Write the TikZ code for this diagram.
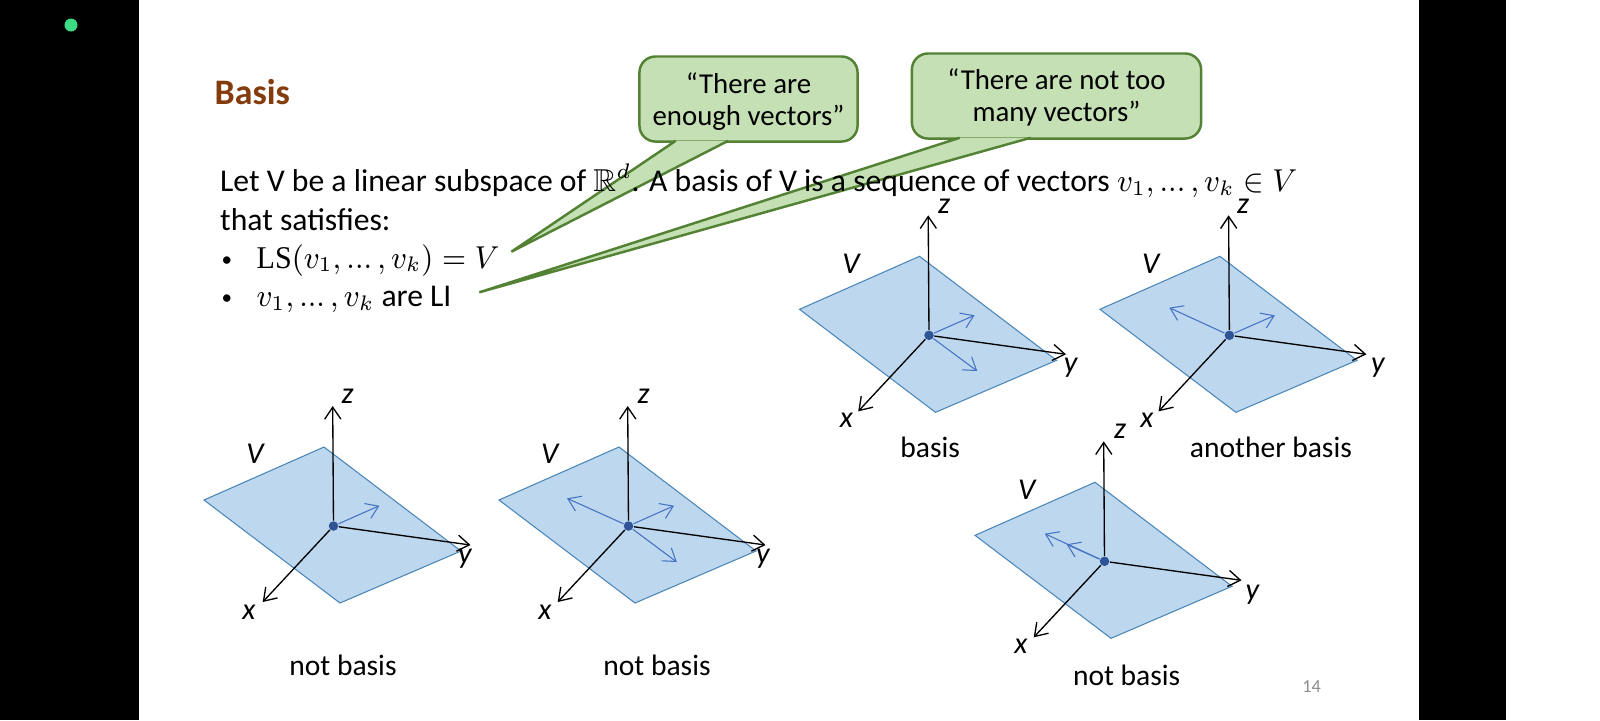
\documentclass[tikz,border=0pt]{standalone}
\usepackage{fontspec}
\usepackage{amssymb}
\setmainfont{Carlito}
\newfontfamily\uprightmath{Liberation Serif}
\usetikzlibrary{arrows.meta}

\definecolor{slidegreen}{HTML}{C5E0B4}
\definecolor{slidegreenline}{HTML}{548235}
\definecolor{planeblue}{HTML}{BDD7EE}
\definecolor{planeline}{HTML}{4A86B8}
\definecolor{vectorblue}{HTML}{4472C4}
\definecolor{dotblue}{HTML}{2F5597}
\definecolor{titlebrown}{HTML}{843C0C}
\definecolor{ledgreen}{HTML}{3DDC84}

\newcommand{\tightdots}{\mathinner{{.}{.}{.}}}
\newcommand{\slidemath}[1]{\scalebox{0.95}[1]{$#1$}}

% plane, dot and the three axes of one panel: name, shift x, shift y
\newcommand{\planepanel}[3]{
  \begin{scope}[xshift=#2*0.01cm, yshift=-#3*0.01cm]
    \draw[plane] (324,447) -- (204,500) -- (340,603) -- (461,551) -- cycle;
    \node[origindot] (#1o) at (333.5,526) {};
    \coordinate (#1z) at (332.7,406);
    \coordinate (#1y) at (470.5,545);
    \coordinate (#1x) at (262.7,602);
    \draw[axis] (#1o) -- (#1z);
    \draw[axis] (#1o) -- (#1y);
    \draw[axis] (#1o) -- (#1x);
  \end{scope}
}

\begin{document}
\begin{tikzpicture}[
    x=0.01cm,
    y=-0.01cm,
    >={Straight Barb[length=3.4pt,width=4.6pt]},
    plane/.style={draw=planeline, line width=0.3pt, fill=planeblue},
    origindot/.style={circle, fill=dotblue, inner sep=0pt, minimum size=0.095cm},
    axis/.style={->, black, line width=0.38pt},
    vector/.style={->, vectorblue, line width=0.3pt},
    axislabel/.style={font=\fontsize{8.6}{10}\selectfont\itshape, inner sep=0pt},
    caption/.style={font=\fontsize{8.4}{10}\selectfont, inner sep=0pt},
    bodyline/.style={font=\fontsize{9}{11}\selectfont, inner sep=0pt, anchor=base west},
    bulletmark/.style={font=\fontsize{6}{7}\selectfont, inner sep=0pt, anchor=base west},
    callout/.style={draw=slidegreenline, fill=slidegreen, line width=0.7pt, rounded corners=0.16cm,
      align=center, inner sep=0pt, font=\fontsize{8.2}{9}\selectfont},
    tail/.style={draw=slidegreenline, fill=slidegreen, line width=0.7pt}
  ]
  \useasboundingbox (0,0) rectangle (1600,720);

  % --- SLIDE ---
  \fill[white] (0,0) rectangle (1600,720);
  \fill[black] (0,0) rectangle (139,720);
  \fill[black] (1419,0) rectangle (1506,720);
  \node[circle, fill=ledgreen, inner sep=0pt, minimum size=0.13cm] (led) at (71,25) {};

  % --- CALLOUTS ---
  \node[callout, minimum width=2.18cm, minimum height=0.85cm] (enough) at (748.5,99)
    {\rule{0pt}{7.5pt}``There are\\enough vectors''};
  \node[callout, minimum width=2.89cm, minimum height=0.85cm] (toomany) at (1056.5,96)
    {\rule{0pt}{6.6pt}``There are not too\\many vectors''};
  \coordinate (enoughtip) at (511.4,251.7);
  \coordinate (toomanytip) at (479.3,292.3);
  \filldraw[tail] ([xshift=0.375cm, yshift=0.02cm]enough.south west) -- (enoughtip)
    -- ([xshift=0.9cm, yshift=0.02cm]enough.south west);
  \filldraw[tail] ([xshift=0.49cm, yshift=0.02cm]toomany.south west) -- (toomanytip)
    -- ([xshift=1.2cm, yshift=0.02cm]toomany.south west);

  % --- TEXT ---
  \node[font=\fontsize{10.2}{12}\selectfont\bfseries, text=titlebrown, inner sep=0pt, anchor=base west] (title) at (214,104) {Basis};
  \node[bodyline] (line1) at (219.5,191.7)
    {Let V be a linear subspace of $\mathbb{R}^d$. A basis of V is a sequence of vectors \slidemath{v_1,\tightdots,v_k\in V}};
  \node[bodyline] (line2) at (219.5,230) {that satisfies:};
  \node[bulletmark] (bullet1) at (221,266) {\textbullet};
  \node[bodyline] (item1) at (256,268) {\slidemath{\mbox{\uprightmath LS}(v_1,\tightdots,v_k)=V}};
  \node[bulletmark] (bullet2) at (221,304.7) {\textbullet};
  \node[bodyline] (item2) at (256,306.7) {\slidemath{v_1,\tightdots,v_k} are LI};

  % --- PANELS ---
  % 1. One vector
  \planepanel{a}{0}{0}
  \coordinate (av) at (379.4,505.7);
  \draw[vector] (ao) -- (av);
  \node[axislabel] (alz) at (347.7,396) {z};
  \node[axislabel] (alv) at (255,454) {V};
  \node[axislabel] (aly) at (464.8,559) {y};
  \node[axislabel] (alx) at (249,612) {x};
  \node[caption] (acap) at (343,665) {not basis};

  % 2. Three vectors
  \planepanel{b}{295}{0}
  \coordinate (bv) at (674,505.7);
  \coordinate (bw) at (567,498.3);
  \coordinate (bu) at (676.8,562);
  \draw[vector] (bo) -- (bv);
  \draw[vector] (bo) -- (bw);
  \draw[vector] (bo) -- (bu);
  \node[axislabel] (blz) at (643.5,396) {z};
  \node[axislabel] (blv) at (549.7,454) {V};
  \node[axislabel] (bly) at (763,559) {y};
  \node[axislabel] (blx) at (545,612) {x};
  \node[caption] (bcap) at (657,665) {not basis};

  % 3. Basis
  \planepanel{c}{595.5}{-190.7}
  \coordinate (cv) at (974.5,315.3);
  \coordinate (cu) at (977.2,371);
  \draw[vector] (co) -- (cv);
  \draw[vector] (co) -- (cu);
  \node[axislabel] (clz) at (944,206) {z};
  \node[axislabel] (clv) at (851,264) {V};
  \node[axislabel] (cly) at (1070.7,367.7) {y};
  \node[axislabel] (clx) at (846.4,420) {x};
  \node[caption] (ccap) at (930.2,447.7) {basis};

  % 4. Another basis
  \planepanel{d}{895.9}{-190.7}
  \coordinate (dv) at (1274.9,315.3);
  \coordinate (dw) at (1169.3,307.7);
  \draw[vector] (do) -- (dv);
  \draw[vector] (do) -- (dw);
  \node[axislabel] (dlz) at (1243,206) {z};
  \node[axislabel] (dlv) at (1150.8,264) {V};
  \node[axislabel] (dly) at (1377.8,367.7) {y};
  \node[axislabel] (dlx) at (1146.8,420) {x};
  \node[caption] (dcap) at (1270.9,447.7) {another basis};

  % 5. Two parallel vectors
  \planepanel{e}{771}{35.3}
  \coordinate (ew) at (1044.8,533.7);
  \coordinate (ev) at (1066.6,544.3);
  \draw[vector] (eo) -- (ew);
  \draw[vector] (eo) -- (ev);
  \node[axislabel] (elz) at (1120,431) {z};
  \node[axislabel] (elv) at (1026.6,490) {V};
  \node[axislabel] (ely) at (1252.3,594.3) {y};
  \node[axislabel] (elx) at (1021,646) {x};
  \node[caption] (ecap) at (1126.6,675) {not basis};

  \node[text=black!45, font=\fontsize{5.2}{6}\selectfont, inner sep=0pt] (pagenum) at (1311.6,686.7) {14};
\end{tikzpicture}
\end{document}
